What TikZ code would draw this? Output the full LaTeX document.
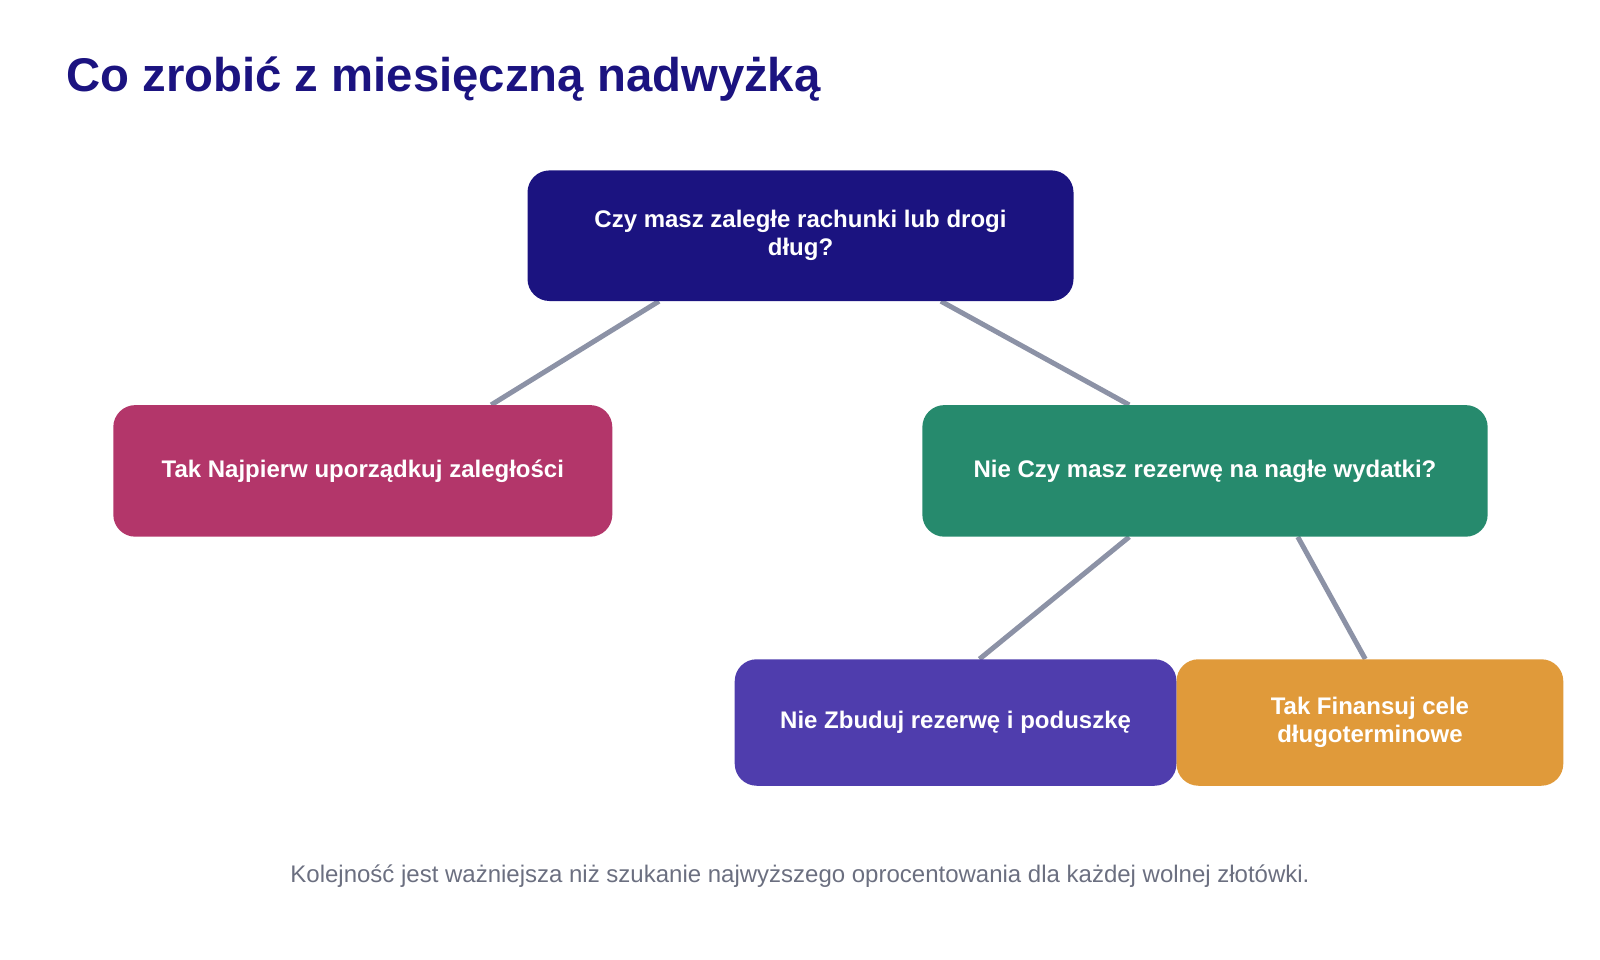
\documentclass[tikz,border=0pt]{standalone}
\usepackage{fontspec}
\setmainfont{Liberation Sans}
\usetikzlibrary{calc,backgrounds}
\definecolor{navy}{HTML}{1B1380}
\definecolor{pinkc}{HTML}{B3366A}
\definecolor{greenc}{HTML}{268A6D}
\definecolor{purplec}{HTML}{4F3DAD}
\definecolor{orangec}{HTML}{E09A3A}
\definecolor{linec}{HTML}{8C92A6}
\definecolor{notec}{HTML}{6B6F80}
\tikzset{
  box/.style={rounded corners=22pt, text=white, font=\bfseries\fontsize{24}{28}\selectfont, align=center, inner sep=0pt},
  conn/.style={draw=linec, line width=5pt},
}
\begin{document}
\begin{tikzpicture}[x=1pt,y=-1pt]
\useasboundingbox (0,0) rectangle (1600,960);
\node[anchor=base west, text=navy, font=\bfseries\fontsize{47.3}{54}\selectfont, inner sep=0pt] (title) at (66,91.5) {Co zrobić z miesięczną nadwyżką};
\node[box, fill=navy, minimum width=546pt, minimum height=130.6pt] (q1) at (800.5,235.7) {Czy masz zaległe rachunki lub drogi\\dług?};
\node[box, fill=pinkc, minimum width=499pt, minimum height=131.6pt] (yes1) at (362.8,470.9) {Tak Najpierw uporządkuj zaległości};
\node[box, fill=greenc, minimum width=565.3pt, minimum height=131.6pt] (q2) at (1205,470.9) {Nie Czy masz rezerwę na nagłe wydatki?};
\node[box, fill=purplec, minimum width=441.8pt, minimum height=126.5pt] (no2) at (955.6,722.5) {Nie Zbuduj rezerwę i poduszkę};
\node[box, fill=orangec, minimum width=386.8pt, minimum height=126.5pt] (yes2) at (1369.9,722.5) {Tak Finansuj cele\\długoterminowe};
\node[anchor=base, text=notec, font=\fontsize{24}{28}\selectfont, inner sep=0pt] (note) at (800,882) {Kolejność jest ważniejsza niż szukanie najwyższego oprocentowania dla każdej wolnej złotówki.};
\begin{scope}[on background layer]
\draw[conn] ($(q1.south west)!0.241!(q1.south east)$) -- ($(yes1.north west)!0.757!(yes1.north east)$);
\draw[conn] ($(q1.south west)!0.757!(q1.south east)$) -- ($(q2.north west)!0.366!(q2.north east)$);
\draw[conn] ($(q2.south west)!0.366!(q2.south east)$) -- ($(no2.north west)!0.554!(no2.north east)$);
\draw[conn] ($(q2.south west)!0.664!(q2.south east)$) -- ($(yes2.north west)!0.488!(yes2.north east)$);
\end{scope}
\end{tikzpicture}
\end{document}
